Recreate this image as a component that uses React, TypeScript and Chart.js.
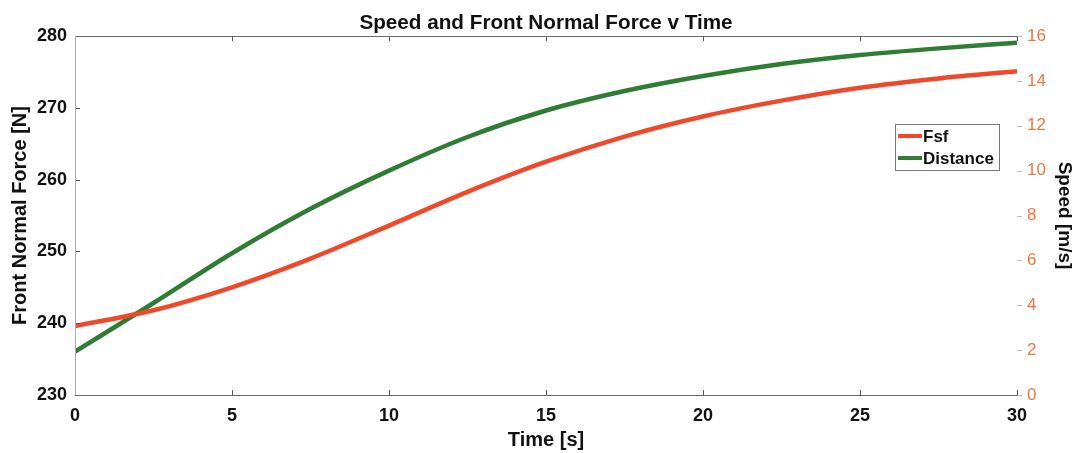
import React, { useEffect, useRef } from "react";
import { Chart, registerables } from "chart.js";

Chart.register(...registerables);

const time = [0, 2.5, 5, 7.5, 10, 12.5, 15, 17.5, 20, 22.5, 25, 27.5, 30];
const fsf = [239.6, 241.8, 245.0, 249.0, 253.6, 258.3, 262.5, 266.0, 268.8, 271.0, 272.8, 274.1, 275.1];
const speed = [1.93, 4.1, 6.32, 8.3, 10.0, 11.5, 12.68, 13.55, 14.22, 14.75, 15.15, 15.45, 15.7];

const FONT = "'Liberation Sans', Arial, sans-serif";
const RED = "#f0482a";
const GREEN = "#2f7d34";
const ORANGE = "#ee7640";

const boxPlugin = {
  id: "boxAndLegend",
  afterDatasetsDraw(chart: any) {
    const { ctx, chartArea: a, scales } = chart;
    ctx.save();
    ctx.strokeStyle = "#555";
    ctx.lineWidth = 1;
    const tl = 5;
    scales.x.ticks.forEach((t: any) => {
      const px = Math.round(scales.x.getPixelForValue(t.value)) + 0.5;
      ctx.beginPath();
      ctx.moveTo(px, a.bottom);
      ctx.lineTo(px, a.bottom - tl);
      ctx.moveTo(px, a.top);
      ctx.lineTo(px, a.top + tl);
      ctx.stroke();
    });
    scales.y.ticks.forEach((t: any) => {
      const py = Math.round(scales.y.getPixelForValue(t.value)) + 0.5;
      ctx.beginPath();
      ctx.moveTo(a.left, py);
      ctx.lineTo(a.left + tl, py);
      ctx.stroke();
    });
    ctx.strokeStyle = "#bbb";
    scales.y1.ticks.forEach((t: any) => {
      const py = Math.round(scales.y1.getPixelForValue(t.value)) + 0.5;
      ctx.beginPath();
      ctx.moveTo(a.right, py);
      ctx.lineTo(a.right + 5, py);
      ctx.stroke();
    });
    ctx.strokeStyle = "#666";
    ctx.beginPath();
    ctx.moveTo(a.left + 0.5, a.bottom + 0.5);
    ctx.lineTo(a.right + 0.5, a.bottom + 0.5);
    ctx.moveTo(a.left + 0.5, a.top + 0.5);
    ctx.lineTo(a.right + 0.5, a.top + 0.5);
    ctx.stroke();
    ctx.strokeStyle = "#aab";
    ctx.beginPath();
    ctx.moveTo(a.left + 0.5, a.top);
    ctx.lineTo(a.left + 0.5, a.bottom);
    ctx.stroke();

    const lx = 895, ly = 124, lw = 104, lh = 46;
    ctx.fillStyle = "#fff";
    ctx.fillRect(lx, ly, lw, lh);
    ctx.strokeStyle = "#777";
    ctx.lineWidth = 1;
    ctx.strokeRect(lx + 0.5, ly + 0.5, lw, lh);
    ctx.font = `bold 17px ${FONT}`;
    ctx.textBaseline = "middle";
    chart.data.datasets.forEach((ds: any, i: number) => {
      const yy = ly + 12 + i * 22;
      ctx.strokeStyle = ds.borderColor;
      ctx.lineWidth = 4;
      ctx.beginPath();
      ctx.moveTo(lx + 3, yy);
      ctx.lineTo(lx + 27, yy);
      ctx.stroke();
      ctx.fillStyle = "#111";
      ctx.fillText(ds.label, lx + 28, yy + 1);
    });
    ctx.restore();
  },
};

export default function App() {
  const ref = useRef<HTMLCanvasElement | null>(null);
  useEffect(() => {
    if (!ref.current) return;
    const chart = new Chart(ref.current, {
      type: "line",
      data: {
        datasets: [
          {
            label: "Fsf",
            data: time.map((t, i) => ({ x: t, y: fsf[i] })),
            borderColor: RED,
            borderWidth: 4.5,
            pointRadius: 0,
            cubicInterpolationMode: "monotone",
            yAxisID: "y",
          },
          {
            label: "Distance",
            data: time.map((t, i) => ({ x: t, y: speed[i] })),
            borderColor: GREEN,
            borderWidth: 4.5,
            pointRadius: 0,
            cubicInterpolationMode: "monotone",
            yAxisID: "y1",
          },
        ],
      },
      options: {
        animation: false,
        responsive: true,
        maintainAspectRatio: false,
        layout: { padding: 0 },
        plugins: {
          legend: { display: false },
          tooltip: { enabled: false },
          title: {
            display: true,
            fullSize: false,
            text: "Speed and Front Normal Force v Time",
            color: "#111",
            font: { family: FONT, size: 20.7, weight: "bold" },
            padding: { top: 11.2, bottom: 0 },
          },
        },
        scales: {
          x: {
            type: "linear",
            min: 0,
            max: 30,
            ticks: { stepSize: 5, color: "#111", font: { family: FONT, size: 18, weight: "bold" }, padding: 2 },
            grid: { display: false },
            border: { display: false },
            title: { display: true, text: "Time [s]", color: "#111", font: { family: FONT, size: 20, weight: "bold" }, padding: { top: 0, bottom: 1 } },
            afterFit: (s: any) => { s.height = 58; },
          },
          y: {
            type: "linear",
            position: "left",
            min: 230,
            max: 280,
            ticks: { stepSize: 10, color: "#111", font: { family: FONT, size: 18, weight: "bold" }, padding: 0 },
            grid: { display: false },
            border: { display: false },
            title: { display: true, text: "Front Normal Force [N]", color: "#111", font: { family: FONT, size: 20, weight: "bold" }, padding: { top: 8, bottom: 0 } },
            afterFit: (s: any) => { s.width = 75; },
          },
          y1: {
            type: "linear",
            position: "right",
            min: 0,
            max: 16,
            ticks: { stepSize: 2, color: ORANGE, font: { family: FONT, size: 17 }, padding: 2 },
            grid: { display: false },
            border: { display: false },
            title: { display: true, text: "Speed [m/s]", color: "#111", font: { family: FONT, size: 19, weight: "bold" }, padding: { top: 0, bottom: 0 } },
            afterFit: (s: any) => { s.width = 59; },
          },
        },
      },
      plugins: [boxPlugin],
    } as any);
    return () => chart.destroy();
  }, []);
  return (
    <div style={{ position: "fixed", left: 0, top: 0, width: 1076, height: 453, background: "#fff" }}>
      <canvas ref={ref} />
    </div>
  );
}
